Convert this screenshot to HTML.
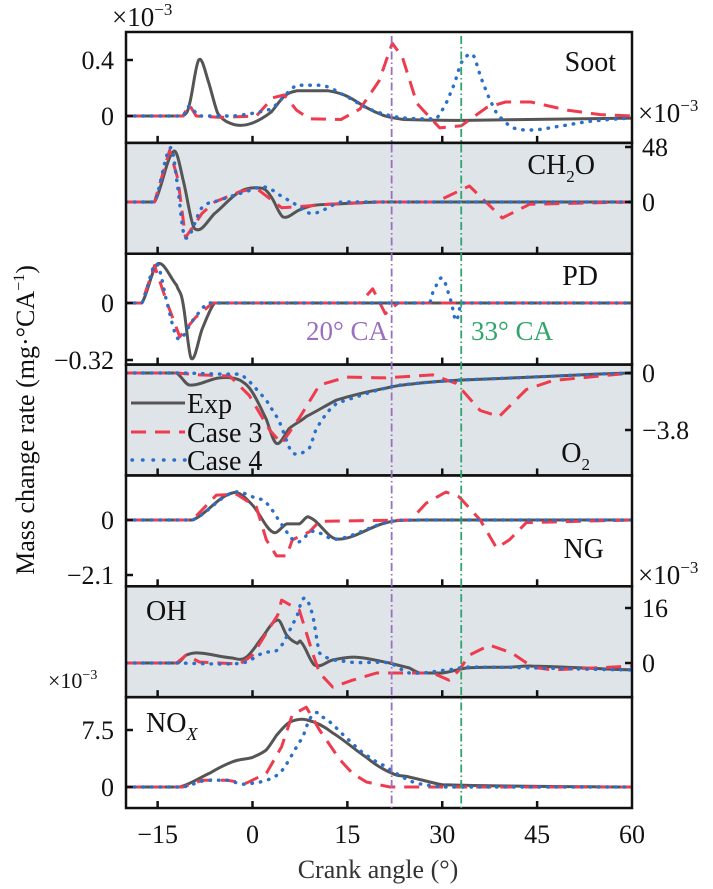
<!DOCTYPE html>
<html><head><meta charset="utf-8"><style>
html,body{margin:0;padding:0;background:#fff;}
svg{display:block;font-family:"Liberation Serif",serif;}
</style></head><body>
<svg id="chart" width="713" height="889" viewBox="0 0 713 889" xmlns="http://www.w3.org/2000/svg">
<g id="bgs"></g><g id="marks"></g><g id="frames"></g><g id="labels"></g>
</svg>
<script>
// x-axis
const xTicks = [-15, 0, 15, 30, 45, 60];
const xMin = -20, xMax = 60;
const vLines = [22, 33];
// panel names and y ticks
const panelNames = ["soot", "ch2o", "pd", "o2", "ng", "oh", "nox"];
const yTickA = [0.4, 48, 0, 0, 0, 16, 7.5];
const yTickB = [0, 0, -0.32, -3.8, -2.1, 0, 0];
const yTickLabelA = ["0.4", "48", "0", "0", "0", "16", "7.5"];
const yTickLabelB = ["0", "0", "\u22120.32", "\u22123.8", "\u22122.1", "0", "0"];
// series data [crank angle, value]
const sootExp = [[-20,0],[-11,0],[-10,0.08],[-8.5,0.4],[-7,0.25],[-5.5,0.02],[-3,-0.06],[0,-0.05],[3,0.03],[5,0.14],[7,0.18],[12,0.18],[15,0.14],[18,0.06],[21,0],[24,-0.025],[35,-0.03],[60,-0.015]];
const sootC3 = [[-20,0],[-11,0],[-10,0.08],[-8.9,0],[-5,-0.01],[0.6,0],[3.2,0.13],[5,0.15],[7,0.04],[9,-0.02],[14,-0.025],[17,0.05],[20,0.25],[22.1,0.52],[23.7,0.42],[26,0.09],[29.6,-0.085],[33,-0.07],[37,0.06],[40,0.1],[44,0.1],[50,0.04],[55,0.01],[60,0]];
const sootC4 = [[-20,0],[-11,0],[-10,0.07],[-8.5,0],[-3,0],[3,0.05],[5,0.14],[7,0.22],[11,0.22],[14,0.16],[18,0.06],[22,0],[26,-0.02],[29,-0.02],[30.7,0.1],[32,0.24],[33,0.38],[34.8,0.44],[36,0.29],[37.2,0.15],[38.6,0.02],[41,-0.08],[44,-0.1],[47.5,-0.08],[53,-0.04],[60,-0.015]];
const ch2oExp = [[-20,0],[-15.5,0],[-12.5,44],[-11,20],[-9.2,-23],[-6,-10],[-2,9],[1.6,12],[3,4],[4.8,-13],[7.4,-7],[9.5,-3],[14,-1.5],[20,0],[60,0]];
const ch2oC3 = [[-20,0],[-15.5,0],[-13.1,45],[-11.8,20],[-10.6,-31],[-9.2,-20],[-8,-10],[-6,0],[-2,9],[0.6,12],[4.6,-5],[7.4,-4],[12,-2],[20,0],[29,0],[34.3,14],[39.5,-14],[43.8,-2],[60,0]];
const ch2oC4 = [[-20,0],[-15.5,0],[-13,47],[-12,20],[-10.7,-31],[-8,-5],[-5,2],[-1,9],[2,13],[4.3,6],[7.1,-3],[9.5,-10],[14,0],[60,0]];
const pdExp = [[-20,0],[-17.5,0],[-15,0.22],[-12,0.1],[-11,0],[-9.7,-0.31],[-8,-0.15],[-6,0],[60,0]];
const pdC3 = [[-20,0],[-17.5,0],[-15.5,0.21],[-13.5,0],[-11.5,-0.19],[-9,-0.08],[-6.3,0],[17,0],[19,0.08],[21,-0.06],[23,0],[60,0]];
const pdC4 = [[-20,0],[-17.5,0],[-15.2,0.22],[-13.5,0],[-11.8,-0.2],[-9.5,-0.1],[-7,0],[28,0],[28.5,0.06],[30,0.14],[31.5,0],[32.2,-0.1],[33,0],[60,0]];
const o2Exp = [[-20,0],[-12,0],[-10,-0.8],[-5.2,-0.33],[-2,-0.47],[0,-1.3],[2.2,-3.1],[3.8,-4.7],[5.8,-3.7],[8.5,-2.9],[13.3,-1.8],[21.2,-1.0],[26.4,-0.67],[32.7,-0.47],[44,-0.27],[60,0]];
const o2C3 = [[-20,0],[-12,0],[-8.4,-0.13],[-3.6,-0.2],[-0.5,-1.5],[2.7,-3.8],[4.6,-4.7],[7.4,-3],[10.6,-0.8],[14.9,-0.27],[21,-0.33],[28.5,-0.13],[32.2,-0.7],[36,-2.5],[39,-2.9],[43.3,-1.1],[47.5,-0.5],[60,0]];
const o2C4 = [[-20,0],[-11,0],[-5,-0.07],[-2,-0.07],[2.2,-1.8],[4.3,-3.3],[6.3,-5.3],[9,-5],[10,-3.8],[11.7,-2.7],[13.3,-2.0],[21.2,-1.0],[26.4,-0.67],[32.7,-0.47],[44,-0.27],[60,0]];
const ngExp = [[-20,0],[-9.5,0],[-3.2,1.03],[0,0.57],[3.2,-0.46],[5.4,-0.15],[7.4,-0.15],[9,0.1],[13.3,-0.73],[21.2,-0.1],[26.4,0],[60,0]];
const ngC3 = [[-20,0],[-9.5,0],[-5.7,0.95],[-2.5,0.98],[0.6,0.5],[2.2,-0.76],[3.8,-1.37],[5.4,-1.37],[6.3,-0.76],[9,-0.45],[10.6,-0.05],[25,0],[27.5,0.65],[30.6,1.07],[32.7,0.88],[36,0],[38.6,-1.07],[40.6,-0.76],[43.3,-0.1],[60,0]];
const ngC4 = [[-20,0],[-9.5,0],[-3.2,1.03],[0.6,0.84],[2.2,0.65],[4.7,-0.2],[7,-0.84],[9.3,-0.45],[10.6,-0.5],[13.3,-0.73],[21.2,-0.1],[26.4,0],[60,0]];
const ohExp = [[-20,0],[-11.8,0],[-10.5,2.3],[-8.4,2.9],[-3.2,1.45],[-1,1.7],[1.6,7.6],[4,12.5],[5.4,8.1],[7,5.8],[7.7,6],[9.8,-0.6],[12.7,0.9],[16.4,1.7],[21.7,0],[24.8,-1.45],[26.4,-2.9],[30,-2.9],[33.8,-1.45],[40.6,-1.2],[44.3,-0.9],[60,-2]];
const ohC3 = [[-20,0],[-12,0],[-10.5,2.3],[-8.4,0.3],[-5.2,0],[-2,-0.3],[0,2.3],[4,14],[4.6,18.3],[7.4,15.4],[9.5,2.9],[10.6,-2.9],[12.7,-7],[15.8,-5],[19.6,-2.9],[25.3,-2.9],[28.5,-2.9],[31.1,-5],[32.7,-2],[34.3,2.3],[37.5,5.2],[41,2.9],[44.3,-1.2],[47.4,-2],[60,-0.9]];
const ohC4 = [[-20,0],[-12,0],[-4,-0.3],[-1,0.3],[1.6,2.9],[4.3,4.4],[7,13.4],[8.2,18.9],[9.5,14],[10.6,2.9],[15.3,0.3],[21.7,0],[24.8,-2.9],[31,-2],[34.3,-1.2],[60,-2]];
const noxExp = [[-20,0],[-11.5,0],[-6.8,1.8],[-3.2,3.3],[0,3.9],[2.2,4.9],[3.8,6.8],[5.8,8.5],[8.7,8.8],[12.7,7.1],[18,3.9],[22.1,1.8],[24.8,1.3],[30,0.3],[60,0]];
const noxC3 = [[-20,0],[-11,0],[-7.9,0.9],[-4.1,0.9],[-1,0.5],[2.2,1.8],[4.6,5.3],[6.3,9.5],[8.5,10.5],[10.6,7.5],[13.8,3.6],[15.8,1.8],[18,0.66],[21.7,0],[60,0]];
const noxC4 = [[-20,0],[-11,0],[-7.3,0.9],[-4.1,0.9],[-1,0.4],[4.3,1.8],[8,6.6],[9.5,9.5],[11.1,9.2],[15.8,5.8],[18.5,3.9],[21.2,2.6],[24,1.2],[25.9,0.5],[30,0],[60,0]];
const expSeries = [sootExp, ch2oExp, pdExp, o2Exp, ngExp, ohExp, noxExp];
const c3Series = [sootC3, ch2oC3, pdC3, o2C3, ngC3, ohC3, noxC3];
const c4Series = [sootC4, ch2oC4, pdC4, o2C4, ngC4, ohC4, noxC4];

const NS = "http://www.w3.org/2000/svg";
const L = 126, R = 632, TOP = 32, PH = 110.86;
const pxA = [60, 147, 303, 373, 520, 608, 730];
const pxB = [116, 202, 360, 430, 575, 663, 787];
const shaded = [false, true, false, true, false, true, false];
const tickSide = ["left", "right", "left", "right", "left", "right", "left"];
function xs(v){ return L + (v - xMin) / (xMax - xMin) * (R - L); }
function ys(i, v){ return pxB[i] + (v - yTickB[i]) / (yTickA[i] - yTickB[i]) * (pxA[i] - pxB[i]); }
function mk(tag, attrs, parent){ const e = document.createElementNS(NS, tag); for (const k in attrs) e.setAttribute(k, attrs[k]); parent.appendChild(e); return e; }
function linePath(pts){ return pts.map((p, k) => (k ? "L" : "M") + p[0].toFixed(1) + " " + p[1].toFixed(1)).join(" "); }
function smoothPath(pts){
  let d = "M" + pts[0][0].toFixed(1) + " " + pts[0][1].toFixed(1);
  for (let k = 0; k < pts.length - 1; k++) {
    const p0 = pts[Math.max(0, k - 1)], p1 = pts[k], p2 = pts[k + 1], p3 = pts[Math.min(pts.length - 1, k + 2)];
    const t = 0.18;
    let c1y = p1[1] + (p2[1] - p0[1]) * t, c2y = p2[1] - (p3[1] - p1[1]) * t;
    if (p1[1] === p2[1]) { c1y = p1[1]; c2y = p2[1]; }
    const c1x = p1[0] + (p2[0] - p1[0]) / 3, c2x = p2[0] - (p2[0] - p1[0]) / 3;
    d += " C" + c1x.toFixed(1) + " " + c1y.toFixed(1) + " " + c2x.toFixed(1) + " " + c2y.toFixed(1) + " " + p2[0].toFixed(1) + " " + p2[1].toFixed(1);
  }
  return d;
}
const bgs = document.getElementById("bgs"), marks = document.getElementById("marks"), frames = document.getElementById("frames"), labels = document.getElementById("labels");
const BOT = TOP + 7 * PH;

for (let i = 0; i < 7; i++) {
  const t = TOP + i * PH;
  const bg = mk("rect", {x: L, y: t, width: R - L, height: PH, fill: shaded[i] ? "#dfe4e8" : "#ffffff"}, bgs);
  
  
  const cp = mk("clipPath", {id: "clip" + i}, marks);
  mk("rect", {x: L, y: t, width: R - L, height: PH}, cp);
  const g = mk("g", {"clip-path": "url(#clip" + i + ")"}, marks);
  
  
  const order = [
    [expSeries[i], "#555555", "", "round", "exp", true],
    [c3Series[i], "#ee3b4e", "15 9", "butt", "case3", false],
    [c4Series[i], "#2a6fc9", "0.5 8", "round", "case4", true]
  ];
  for (const s of order) {
    const pts = s[0].map(p => [xs(p[0]), ys(i, p[1])]);
    const d = s[5] ? smoothPath(pts) : linePath(pts);
    const p = mk("path", {d: d, fill: "none", stroke: s[1], "stroke-width": s[4] === "case4" ? 3.4 : 3, "stroke-linecap": s[3], "stroke-linejoin": "round"}, g);
    if (s[2]) p.setAttribute("stroke-dasharray", s[2]);
    
    
  }
  const fr = mk("rect", {x: L, y: t, width: R - L, height: PH, fill: "none", stroke: "#111", "stroke-width": 2.5}, frames);
  
  
  for (const xv of xTicks) {
    if (xv === 60) continue;
    const tk = mk("line", {x1: xs(xv), x2: xs(xv), y1: t + PH, y2: t + PH - 7, stroke: "#111", "stroke-width": 2.5}, frames);
    
    
  }
  const side = tickSide[i];
  const ticks = [[yTickA[i], yTickLabelA[i]], [yTickB[i], yTickLabelB[i]]];
  for (const tv of ticks) {
    const yy = ys(i, tv[0]);
    const x0 = side === "left" ? L : R;
    const tk = mk("line", {x1: x0, x2: side === "left" ? x0 + 7 : x0 - 7, y1: yy, y2: yy, stroke: "#111", "stroke-width": 2.5}, frames);
    
    
    const tx = mk("text", {x: side === "left" ? L - 12 : R + 10, y: yy + 9, "font-size": 26, "text-anchor": side === "left" ? "end" : "start", fill: "#111"}, labels);
    tx.textContent = tv[1];
    
    
  }
}
for (const xv of xTicks) {
  const tx = mk("text", {x: xs(xv), y: 843, "font-size": 26, "text-anchor": "middle", fill: "#111"}, labels);
  tx.textContent = xv < 0 ? "\u2212" + Math.abs(xv) : String(xv);
  
  
}
const vColors = ["#9b6fc0", "#2fa56a"];
vLines.forEach((v, k) => {
  const ln = mk("line", {x1: xs(v), x2: xs(v), y1: TOP + 4, y2: BOT, stroke: vColors[k], "stroke-width": 1.8, "stroke-dasharray": "8 3 1.5 3"}, frames);
  
  
});
</script>
<script>
const lab = document.getElementById("labels");
lab.insertAdjacentHTML("beforeend", `
<text x="378" y="878" font-size="26" text-anchor="middle" fill="#333">Crank angle (°)</text>
<text transform="translate(34,420) rotate(-90)" font-size="26" text-anchor="middle" fill="#111">Mass change rate (mg·°CA<tspan font-size="16" dy="-10">−1</tspan><tspan dy="10">)</tspan></text>
<text x="112" y="26" font-size="27" fill="#111">×10<tspan font-size="17" dy="-11">−3</tspan></text>
<text x="638" y="122" font-size="27" fill="#111">×10<tspan font-size="17" dy="-11">−3</tspan></text>
<text x="638" y="584" font-size="27" fill="#111">×10<tspan font-size="17" dy="-11">−3</tspan></text>
<text x="48" y="688" font-size="22" fill="#111">×10<tspan font-size="14" dy="-9">−3</tspan></text>
<text x="616" y="71" font-size="28" text-anchor="end" fill="#111">Soot</text>
<text x="595" y="174" font-size="28" text-anchor="end" fill="#111">CH<tspan font-size="17" dy="8">2</tspan><tspan dy="-8">O</tspan></text>
<text x="598" y="285" font-size="28" text-anchor="end" fill="#111">PD</text>
<text x="590" y="462" font-size="28" text-anchor="end" fill="#111">O<tspan font-size="17" dy="8">2</tspan></text>
<text x="604" y="558" font-size="28" text-anchor="end" fill="#111">NG</text>
<text x="146" y="620" font-size="28" fill="#111">OH</text>
<text x="146" y="732" font-size="28" fill="#111">NO<tspan font-size="18" font-style="italic" dy="8">X</tspan></text>
<text x="388" y="340" font-size="27" text-anchor="end" fill="#9b6fc0">20° CA</text>
<text x="471" y="340" font-size="27" fill="#2fa56a">33° CA</text>
<g>
<line x1="131" x2="185" y1="403" y2="403" stroke="#555" stroke-width="3"/>
<text x="187" y="413" font-size="28" fill="#111">Exp</text>
<line x1="131" x2="185" y1="432" y2="432" stroke="#ee3b4e" stroke-width="3" stroke-dasharray="15 9"/>
<text x="187" y="442" font-size="28" fill="#111">Case 3</text>
<line x1="132" x2="185" y1="460" y2="460" stroke="#2a6fc9" stroke-width="3.4" stroke-linecap="round" stroke-dasharray="0.5 10"/>
<text x="187" y="470" font-size="28" fill="#111">Case 4</text>
</g>`);
</script>
</body></html>
